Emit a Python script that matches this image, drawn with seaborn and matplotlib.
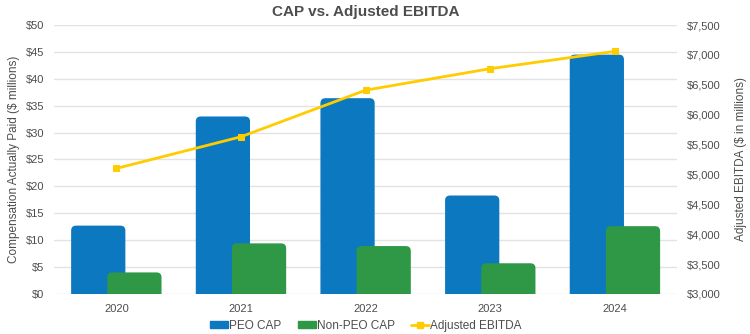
import matplotlib
matplotlib.use("Agg")
import matplotlib.pyplot as plt
from matplotlib.patches import FancyBboxPatch, Patch
from matplotlib.lines import Line2D
import seaborn as sns
import pandas as pd
import numpy as np

years = ["2020", "2021", "2022", "2023", "2024"]
peo_cap = [12.7, 33.0, 36.4, 18.3, 44.5]
non_peo_cap = [4.0, 9.4, 8.9, 5.7, 12.6]
adj_ebitda = [5100, 5630, 6410, 6770, 7060]

series_names = ["PEO CAP", "Non-PEO CAP"]
c_blue = "#0B78BF"
c_green = "#2F9847"
c_yellow = "#FFCC00"
txt = "#4D4D4D"

sns.set_theme(style="white")
plt.rcParams["font.family"] = ["Liberation Sans", "DejaVu Sans"]

df = pd.DataFrame({
    "year": years * 2,
    "value": peo_cap + non_peo_cap,
    "series": [series_names[0]] * len(years) + [series_names[1]] * len(years),
})

fig = plt.figure(figsize=(7.5, 3.34), dpi=100)
ax = fig.add_axes([0.072, 0.12, 0.831, 0.805])

sns.barplot(data=df, x="year", y="value", hue="series", order=years,
            hue_order=series_names, palette=[c_blue, c_green], width=0.58,
            ax=ax, legend=False, saturation=1)

# widen bars so they overlap, and round their top corners
bar_w = 0.435
px_per_x = 124.5
px_per_y = 5.38
aspect = px_per_x / px_per_y
rects = list(ax.patches)
for r in rects:
    x, y = r.get_x(), r.get_y()
    w, h = r.get_width(), r.get_height()
    cx = x + w / 2
    fc = r.get_facecolor()
    r.remove()
    fb = FancyBboxPatch((cx - bar_w / 2, y - 3), bar_w, h + 3,
                        boxstyle="round,pad=0,rounding_size=0.04",
                        mutation_aspect=aspect, fc=fc, ec="none", zorder=2)
    ax.add_patch(fb)

ax.set_xlim(-0.5, len(years) - 0.5)
ax.set_ylim(0, 50)
ax.set_yticks(np.arange(0, 51, 5))
ax.set_yticklabels([f"${v}" for v in range(0, 51, 5)])
ax.yaxis.grid(True, color="#E3E3E3", linewidth=1)
ax.set_axisbelow(True)
for s in ax.spines.values():
    s.set_visible(False)
ax.set_xlabel("")
ax.set_ylabel("Compensation Actually Paid ($ millions)", fontsize=8.5, color=txt, labelpad=4)
ax.tick_params(axis="both", labelsize=8, colors=txt, length=0)
ax.tick_params(axis="x", pad=7)
ax.tick_params(axis="y", pad=7)

ax2 = ax.twinx()
sns.lineplot(x=np.arange(len(years)), y=adj_ebitda, ax=ax2, color=c_yellow,
             marker="s", markersize=5, markeredgecolor=c_yellow, linewidth=2, zorder=5)
ax2.set_ylim(3000, 7500)
ax2.set_yticks(np.arange(3000, 7501, 500))
ax2.set_yticklabels([f"${v:,}" for v in range(3000, 7501, 500)])
for s in ax2.spines.values():
    s.set_visible(False)
ax2.tick_params(axis="y", labelsize=8, colors=txt, length=0, pad=7)
ax2.set_ylabel("Adjusted EBITDA ($ in millions)", fontsize=8.5, color=txt, labelpad=10)
ax2.grid(False)

fig.suptitle("CAP vs. Adjusted EBITDA", x=0.488, y=0.985, fontsize=11,
             fontweight="bold", color=txt)

handles = [Patch(color=c_blue), Patch(color=c_green),
           Line2D([0], [0], color=c_yellow, marker="s", markersize=4, linewidth=2)]
fig.legend(handles, series_names + ["Adjusted EBITDA"], loc="lower center",
           bbox_to_anchor=(0.488, -0.025), ncol=3, frameon=False, fontsize=8.5,
           handlelength=1.5, handleheight=0.5, handletextpad=0.1, columnspacing=1.4,
           labelcolor=txt)

fig.savefig("out.png", dpi=100)
